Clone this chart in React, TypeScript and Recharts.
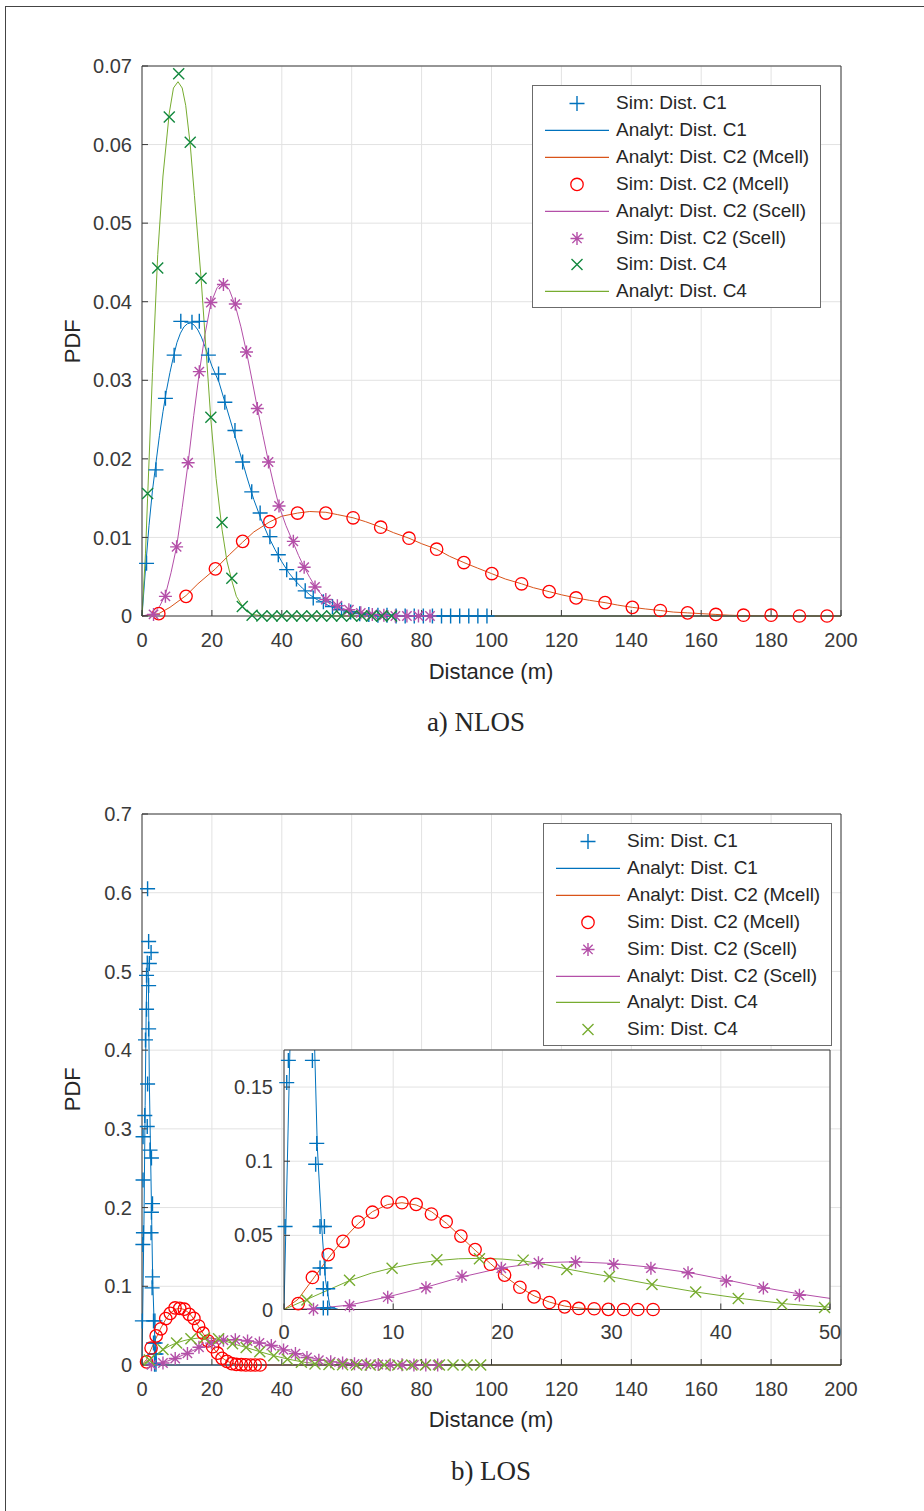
import React from 'react';
import { ComposedChart, Line, Scatter, XAxis, YAxis, CartesianGrid } from 'recharts';

type P = [number, number];

// ---------- ticks ----------
const X_TICKS = [0, 20, 40, 60, 80, 100, 120, 140, 160, 180, 200];
const NLOS_Y_TICKS = [0, 0.01, 0.02, 0.03, 0.04, 0.05, 0.06, 0.07];
const LOS_Y_TICKS = [0, 0.1, 0.2, 0.3, 0.4, 0.5, 0.6, 0.7];
const INSET_X_TICKS = [0, 10, 20, 30, 40, 50];
const INSET_Y_TICKS = [0, 0.05, 0.1, 0.15];

// ---------- NLOS data ----------
const nlosSimC1: P[] = [
  [1.3, 0.0067], [4.0, 0.0186], [6.7, 0.0277], [9.2, 0.0332], [11.1, 0.0375], [14.3, 0.0374], [16.4, 0.0375],
  [19.0, 0.0332], [21.9, 0.0308], [23.7, 0.0272], [26.6, 0.0236], [28.8, 0.0196], [31.4, 0.0158], [33.8, 0.0131],
  [36.6, 0.0101], [39.0, 0.0078], [41.4, 0.0059], [44.2, 0.0047], [46.7, 0.0032], [49.0, 0.0023], [51.9, 0.0018],
  [54.5, 0.0012], [57.1, 0.0008], [59.7, 0.0005], [62.3, 0.0003], [64.9, 0.0002], [67.5, 0.0001], [70.1, 0.0001],
  [72.7, 0], [75.3, 0], [77.9, 0], [80.5, 0], [83.1, 0], [85.7, 0], [88.3, 0], [90.9, 0], [93.5, 0], [96.1, 0], [98.7, 0],
];
const nlosAnaC1: P[] = [
  [0, 0], [1, 0.006], [2, 0.0115], [3, 0.016], [4, 0.0195], [5, 0.023], [6, 0.026], [7, 0.0287], [8, 0.031],
  [9, 0.033], [10, 0.0348], [11, 0.036], [12, 0.0368], [13, 0.0372], [14, 0.0373], [15, 0.037], [16, 0.0364],
  [17, 0.0355], [18, 0.0343], [19, 0.0331], [20, 0.0318], [22, 0.0298], [24, 0.0268], [26, 0.0238], [28, 0.0208],
  [30, 0.0177], [32, 0.0148], [34, 0.0124], [36, 0.0103], [38, 0.0085], [40, 0.0069], [42, 0.0055], [44, 0.0044],
  [46, 0.0035], [48, 0.0027], [50, 0.0021], [54, 0.0012], [58, 0.0007], [62, 0.0004], [66, 0.0002], [72, 0.0001],
  [80, 0], [200, 0],
];
const nlosAnaMcell: P[] = [
  [0, 0], [4.8, 0.0003], [8, 0.0011], [12.6, 0.0026], [16, 0.0041], [21, 0.006], [25, 0.0078], [28.8, 0.0094],
  [32, 0.0107], [36.6, 0.012], [40, 0.0127], [44.5, 0.0131], [48, 0.0133], [52.6, 0.0132], [56, 0.0129],
  [60.4, 0.0125], [64, 0.012], [68.3, 0.0113], [72, 0.0106], [76.4, 0.0099], [80, 0.0092], [84.3, 0.0085],
  [88, 0.0076], [92.1, 0.0068], [96, 0.0061], [100, 0.0054], [104, 0.0047], [108.6, 0.0041], [112, 0.0036],
  [116.5, 0.0031], [120, 0.0027], [124.2, 0.0023], [128, 0.002], [132.5, 0.0017], [136, 0.0014], [140.3, 0.0011],
  [144, 0.0009], [148.3, 0.0007], [152, 0.0005], [156.1, 0.0004], [160, 0.0003], [164.2, 0.0002], [168, 0.0001],
  [172, 0.00005], [180, 0.00002], [190, 0], [200, 0],
];
const nlosSimMcell: P[] = [
  [4.8, 0.0003], [12.6, 0.0025], [21.0, 0.006], [28.8, 0.0095], [36.6, 0.012], [44.5, 0.0131], [52.6, 0.0131],
  [60.4, 0.0125], [68.3, 0.0113], [76.4, 0.0099], [84.3, 0.0085], [92.1, 0.0068], [100.1, 0.0054], [108.6, 0.0041],
  [116.5, 0.0031], [124.2, 0.0023], [132.5, 0.0017], [140.3, 0.0011], [148.3, 0.0007], [156.1, 0.0004],
  [164.2, 0.0002], [172.1, 0.0001], [180.0, 0.0001], [188.1, 0], [196.0, 0],
];
const nlosAnaScell: P[] = [
  [0, 0], [3.3, 0.0003], [5, 0.0012], [6.7, 0.0027], [8.3, 0.0055], [9.9, 0.0088], [11.5, 0.0138], [13.2, 0.0195],
  [14.8, 0.0255], [16.4, 0.031], [18, 0.0358], [19.7, 0.0398], [21.5, 0.0418], [23.3, 0.0425], [25, 0.0415],
  [26.7, 0.0395], [28.3, 0.0368], [29.9, 0.0336], [31.5, 0.03], [33, 0.0265], [34.6, 0.023], [36.2, 0.0196],
  [37.7, 0.0167], [39.2, 0.014], [41.2, 0.0115], [43.3, 0.0093], [44.8, 0.0077], [46.4, 0.0062], [48, 0.0049],
  [49.5, 0.0038], [51, 0.0029], [52.6, 0.0022], [55.9, 0.0012], [59.2, 0.0007], [62.6, 0.0004], [66, 0.0002],
  [70, 0.0001], [76, 0], [200, 0],
];
const nlosSimScell: P[] = [
  [3.3, 0.0002], [6.7, 0.0025], [9.9, 0.0088], [13.2, 0.0195], [16.4, 0.0311], [19.7, 0.0399], [23.3, 0.0422],
  [26.7, 0.0397], [29.9, 0.0336], [33.0, 0.0264], [36.2, 0.0196], [39.2, 0.014], [43.3, 0.0095], [46.4, 0.0062],
  [49.5, 0.0037], [52.6, 0.0021], [55.9, 0.0013], [59.2, 0.0008], [62.6, 0.0004], [65.9, 0.0002], [69.2, 0.0001],
  [72.5, 0], [75.8, 0], [79.1, 0], [82.4, 0],
];
const nlosSimC4: P[] = [
  [1.6, 0.0156], [4.5, 0.0443], [7.8, 0.0635], [10.5, 0.069], [13.8, 0.0603], [16.9, 0.043], [19.7, 0.0253],
  [22.9, 0.0119], [25.7, 0.0048], [28.7, 0.0012], [31.5, 0.0001], [34.3, 0], [37.2, 0], [40.0, 0], [42.9, 0],
  [45.7, 0], [48.6, 0], [51.4, 0], [54.3, 0], [57.1, 0], [60.0, 0], [62.9, 0], [65.7, 0], [68.6, 0], [71.4, 0],
];
const nlosAnaC4: P[] = [
  [0, 0], [1, 0.008], [1.6, 0.015], [3, 0.031], [4.5, 0.046], [6, 0.056], [7.8, 0.064], [9, 0.0672], [10.3, 0.068],
  [11.5, 0.0672], [12.5, 0.065], [13.8, 0.06], [15, 0.0535], [16.9, 0.043], [18.3, 0.034], [19.7, 0.025],
  [21.2, 0.0175], [22.9, 0.011], [24.3, 0.007], [25.7, 0.0045], [27, 0.0025], [28.8, 0.0012], [30, 0.0006],
  [31.6, 0.0002], [34, 0.00005], [36, 0], [200, 0],
];

// ---------- LOS data ----------
const losSimC1: P[] = [
  [0.1, 0.056], [0.25, 0.153], [0.4, 0.168], [0.3, 0.235], [0.3, 0.29], [0.8, 0.317], [1.5, 0.303], [1.6, 0.357],
  [1.0, 0.413], [1.9, 0.427], [1.3, 0.452], [1.9, 0.482], [1.3, 0.495], [2.1, 0.51], [2.6, 0.524], [1.9, 0.538],
  [1.6, 0.605], [2.3, 0.273], [2.7, 0.263], [3.0, 0.205], [2.7, 0.194], [2.6, 0.168], [3.0, 0.112], [2.9, 0.098],
  [3.3, 0.056], [3.7, 0.056], [3.3, 0.028], [3.75, 0.028], [3.6, 0.014], [4.0, 0.014], [3.6, 0.001], [4.0, 0.001],
];
const losAnaC1: P[] = [
  [0, 0], [0.55, 0.178], [0.9, 0.33], [1.2, 0.45], [1.5, 0.52], [1.8, 0.5], [2.1, 0.36], [2.8, 0.178], [3.05, 0.11],
  [3.45, 0.056], [3.8, 0.02], [4.2, 0.002], [5, 0], [200, 0],
];
const losAnaMcell: P[] = [
  [0, 0], [1.3, 0.007], [2.6, 0.02], [4, 0.034], [5.4, 0.047], [6.8, 0.058], [8.1, 0.066], [9.5, 0.0708],
  [10.8, 0.072], [12.1, 0.0705], [13.5, 0.066], [14.9, 0.058], [16.2, 0.049], [17.5, 0.04], [18.9, 0.031],
  [20.2, 0.0225], [21.6, 0.015], [22.9, 0.0092], [24.3, 0.005], [25.7, 0.0023], [27, 0.001], [28.4, 0.0003],
  [30, 0], [200, 0],
];
const losSimMcell: P[] = [
  [1.3, 0.004], [2.6, 0.0216], [4.05, 0.037], [5.4, 0.046], [6.8, 0.059], [8.1, 0.0656], [9.45, 0.0725],
  [10.8, 0.072], [12.1, 0.0709], [13.5, 0.0644], [14.85, 0.0592], [16.2, 0.0495], [17.5, 0.0404], [18.9, 0.0305],
  [20.2, 0.0232], [21.6, 0.015], [22.9, 0.0085], [24.3, 0.0047], [25.7, 0.0018], [27.0, 0.0007], [28.4, 0.0005],
  [29.7, 0.0001], [31.1, 0], [32.4, 0], [33.8, 0],
];
const losSimScell: P[] = [
  [2.7, 0.0002], [6.0, 0.0025], [9.5, 0.0083], [13.0, 0.0147], [16.3, 0.0225], [19.9, 0.0278], [23.3, 0.0315],
  [26.7, 0.032], [30.2, 0.0304], [33.6, 0.0279], [37.0, 0.0248], [40.5, 0.0192], [43.9, 0.0145], [47.2, 0.0096],
  [50.6, 0.006], [54.0, 0.004], [57.4, 0.0025], [60.8, 0.0015], [64.2, 0.001], [67.6, 0.0006], [71.0, 0.0003],
  [74.4, 0.0002], [77.8, 0.0001], [81.2, 0], [84.6, 0],
];
const losAnaScell: P[] = [
  [0, 0], [2.7, 0.0005], [6, 0.003], [9.5, 0.0085], [13, 0.015], [16.3, 0.022], [19.9, 0.028], [23.3, 0.0315],
  [26.7, 0.0322], [30.2, 0.031], [33.6, 0.0285], [37, 0.025], [40.5, 0.02], [43.9, 0.0148], [47.2, 0.0105],
  [50, 0.0075], [54, 0.0045], [58, 0.0025], [62, 0.0013], [66, 0.0006], [70, 0.0003], [75, 0.0001], [80, 0], [200, 0],
];
const losAnaC4: P[] = [
  [0, 0], [2, 0.0065], [4, 0.013], [6, 0.0195], [8, 0.0245], [10, 0.0282], [12, 0.031], [14, 0.033], [16, 0.0342],
  [18, 0.0345], [20, 0.034], [22, 0.0327], [24, 0.0302], [26, 0.0272], [28, 0.0245], [30, 0.022], [34, 0.0165],
  [38, 0.0115], [42, 0.0073], [46, 0.0038], [50, 0.0015], [55, 0.0006], [60, 0.0002], [70, 0.0001], [80, 0], [200, 0],
];
const losSimC4: P[] = [
  [2.1, 0.0064], [6.0, 0.0197], [9.9, 0.0278], [14.0, 0.0335], [17.9, 0.0342], [21.9, 0.0333], [25.9, 0.027],
  [29.8, 0.0223], [33.7, 0.0168], [37.7, 0.0118], [41.6, 0.0074], [45.6, 0.0036], [49.5, 0.0013], [53.5, 0.0006],
  [57.4, 0.0003], [61.4, 0.0001], [65.3, 0], [69.3, 0], [73.2, 0], [77.2, 0], [81.1, 0], [85.1, 0], [89.0, 0],
  [93.0, 0], [96.9, 0],
];

// ---------- styling ----------
const FONT = '"Liberation Sans", Arial, Helvetica, sans-serif';
const SERIF = '"Liberation Serif", "Times New Roman", serif';
const AXIS = '#3a3a3a';
const TXT = '#3a3a3a';
const GRID = '#e2e2e2';
const C_BLUE = '#0072BD';
const C_ORANGE = '#D95319';
const C_RED = '#FF0000';
const C_MAG = '#B44FA8';
const C_DKGREEN = '#12883E';
const C_LTGREEN = '#77AC30';

const pts = (a: P[]) => a.map(([x, y]) => ({ x, y }));

type Kind = 'line' | 'plus' | 'circle' | 'star' | 'x';

const markerPath = (kind: Kind, cx: number, cy: number) => {
  if (kind === 'plus') return `M${cx - 7.5},${cy}H${cx + 7.5}M${cx},${cy - 7.5}V${cy + 7.5}`;
  if (kind === 'x') return `M${cx - 5.5},${cy - 5.5}L${cx + 5.5},${cy + 5.5}M${cx - 5.5},${cy + 5.5}L${cx + 5.5},${cy - 5.5}`;
  if (kind === 'star') {
    const r = 6.5;
    const d = r * 0.72;
    return `M${cx - r},${cy}H${cx + r}M${cx},${cy - r}V${cy + r}M${cx - d},${cy - d}L${cx + d},${cy + d}M${cx - d},${cy + d}L${cx + d},${cy - d}`;
  }
  return '';
};

const Marker = ({ kind, cx, cy, color }: { kind: Kind; cx: number; cy: number; color: string }) => {
  if (kind === 'circle') return <circle cx={cx} cy={cy} r={6.2} fill="none" stroke={color} strokeWidth={1.3} />;
  return <path d={markerPath(kind, cx, cy)} fill="none" stroke={color} strokeWidth={1.4} />;
};

const shape = (kind: Kind, color: string) => (props: any) => {
  const { cx, cy } = props;
  if (cx == null || cy == null || isNaN(cx) || isNaN(cy)) return <g />;
  return <Marker kind={kind} cx={cx} cy={cy} color={color} />;
};

type Series = { kind: Kind; color: string; data: P[] };

const tickStyle = { fill: TXT, fontSize: 20, fontFamily: FONT };

const fmt = (v: number) => String(v);

function renderBoxAxes(
  xDomain: [number, number], yDomain: [number, number], xTicks: number[], yTicks: number[],
  clip: boolean, xMargin: number, yMargin: number
) {
  return [
    <XAxis key="xb" xAxisId={0} type="number" dataKey="x" domain={xDomain} ticks={xTicks} interval={0}
      height={30} tickSize={-6} tickMargin={xMargin} tick={tickStyle} tickFormatter={fmt}
      axisLine={{ stroke: AXIS }} tickLine={{ stroke: AXIS }} allowDataOverflow={clip} />,
    <XAxis key="xt" xAxisId="top" orientation="top" type="number" dataKey="x" domain={xDomain} ticks={xTicks}
      interval={0} height={1} tickSize={-6} tick={false} axisLine={{ stroke: AXIS }} tickLine={{ stroke: AXIS }}
      allowDataOverflow />,
    <YAxis key="yl" yAxisId={0} type="number" dataKey="y" domain={yDomain} ticks={yTicks} interval={0}
      width={60} tickSize={-6} tickMargin={yMargin} tick={tickStyle} tickFormatter={fmt}
      axisLine={{ stroke: AXIS }} tickLine={{ stroke: AXIS }} allowDataOverflow={clip} />,
    <YAxis key="yr" yAxisId="right" orientation="right" type="number" dataKey="y" domain={yDomain} ticks={yTicks}
      interval={0} width={1} tickSize={-6} tick={false} axisLine={{ stroke: AXIS }} tickLine={{ stroke: AXIS }}
      allowDataOverflow />,
  ];
}

function renderSeries(series: Series[], prefix: string, scatterAxis: string | number, filter?: (p: P) => boolean) {
  return series.map((s, i) => {
    if (s.kind === 'line') {
      return (
        <Line key={`${prefix}-${i}`} xAxisId={0} yAxisId={0} data={pts(s.data)} dataKey="y" type="linear"
          stroke={s.color} strokeWidth={1} dot={false} activeDot={false} isAnimationActive={false} />
      );
    }
    const d = filter ? s.data.filter(filter) : s.data;
    return (
      <Scatter key={`${prefix}-${i}`} xAxisId={scatterAxis} yAxisId={scatterAxis} data={pts(d)} dataKey="y"
        shape={shape(s.kind, s.color)} isAnimationActive={false} />
    );
  });
}

const nlosSeries: Series[] = [
  { kind: 'plus', color: C_BLUE, data: nlosSimC1 },
  { kind: 'line', color: C_BLUE, data: nlosAnaC1 },
  { kind: 'line', color: C_ORANGE, data: nlosAnaMcell },
  { kind: 'circle', color: C_RED, data: nlosSimMcell },
  { kind: 'line', color: C_MAG, data: nlosAnaScell },
  { kind: 'star', color: C_MAG, data: nlosSimScell },
  { kind: 'x', color: C_DKGREEN, data: nlosSimC4 },
  { kind: 'line', color: C_LTGREEN, data: nlosAnaC4 },
];
const nlosLabels = [
  'Sim: Dist. C1', 'Analyt: Dist. C1', 'Analyt: Dist. C2 (Mcell)', 'Sim: Dist. C2 (Mcell)',
  'Analyt: Dist. C2 (Scell)', 'Sim: Dist. C2 (Scell)', 'Sim: Dist. C4', 'Analyt: Dist. C4',
];

const losSeries: Series[] = [
  { kind: 'plus', color: C_BLUE, data: losSimC1 },
  { kind: 'line', color: C_BLUE, data: losAnaC1 },
  { kind: 'line', color: C_ORANGE, data: losAnaMcell },
  { kind: 'circle', color: C_RED, data: losSimMcell },
  { kind: 'star', color: C_MAG, data: losSimScell },
  { kind: 'line', color: C_MAG, data: losAnaScell },
  { kind: 'line', color: C_LTGREEN, data: losAnaC4 },
  { kind: 'x', color: C_LTGREEN, data: losSimC4 },
];
const losLabels = [
  'Sim: Dist. C1', 'Analyt: Dist. C1', 'Analyt: Dist. C2 (Mcell)', 'Sim: Dist. C2 (Mcell)',
  'Sim: Dist. C2 (Scell)', 'Analyt: Dist. C2 (Scell)', 'Analyt: Dist. C4', 'Sim: Dist. C4',
];

function LegendBox({ left, top, width, series, labels }: { left: number; top: number; width: number; series: Series[]; labels: string[] }) {
  const rowH = 26.9;
  return (
    <div style={{
      position: 'absolute', left, top, width, height: 223, background: '#fff', border: '1px solid #6b6b6b',
      boxSizing: 'border-box',
    }}>
      {series.map((s, i) => (
        <div key={i} style={{ position: 'absolute', left: 0, top: 4 + i * rowH, width: '100%', height: rowH }}>
          <svg width={84} height={rowH} style={{ position: 'absolute', left: 0, top: 0 }}>
            {s.kind === 'line'
              ? <line x1={12} x2={76} y1={rowH / 2} y2={rowH / 2} stroke={s.color} strokeWidth={1.2} />
              : <Marker kind={s.kind} cx={44} cy={rowH / 2} color={s.color} />}
          </svg>
          <span style={{
            position: 'absolute', left: 83, top: 0, lineHeight: `${rowH}px`, fontSize: 19, fontFamily: FONT,
            color: '#262626', whiteSpace: 'nowrap',
          }}>{labels[i]}</span>
        </div>
      ))}
    </div>
  );
}

const Text = ({ cx, cy, size, family, children, rotate }: any) => (
  <div style={{
    position: 'absolute', left: cx - 200, top: cy - size * 0.6, width: 400, height: size * 1.2, lineHeight: `${size * 1.2}px`,
    textAlign: 'center', fontSize: size, fontFamily: family, color: '#262626', whiteSpace: 'nowrap',
    transform: rotate ? `rotate(${rotate}deg)` : undefined,
  }}>{children}</div>
);

export default function App() {
  return (
    <div style={{ position: 'absolute', left: 0, top: 0, width: 924, height: 1511, overflow: 'hidden', background: '#fff' }}>
      <div style={{ position: 'absolute', left: 5, top: 6, width: 1000, height: 1600, border: '1px solid #444' }} />

      {/* NLOS */}
      <div style={{ position: 'absolute', left: 0, top: 0 }}>
        <ComposedChart width={924} height={700} margin={{ top: 65, right: 82, left: 82, bottom: 54 }}>
          <CartesianGrid stroke={GRID} strokeWidth={1} />
          {renderBoxAxes([0, 200], [0, 0.07], X_TICKS, NLOS_Y_TICKS, false, 23, 16)}
          {renderSeries(nlosSeries, 'n', 0)}
        </ComposedChart>
      </div>
      <LegendBox left={532} top={85} width={289} series={nlosSeries} labels={nlosLabels} />
      <Text cx={491} cy={672} size={22} family={FONT}>Distance (m)</Text>
      <Text cx={73} cy={341} size={22} family={FONT} rotate={-90}>PDF</Text>
      <Text cx={476} cy={722} size={27} family={SERIF}>a) NLOS</Text>

      {/* LOS */}
      <div style={{ position: 'absolute', left: 0, top: 750 }}>
        <ComposedChart width={924} height={700} margin={{ top: 63, right: 82, left: 82, bottom: 55 }}>
          <CartesianGrid stroke={GRID} strokeWidth={1} />
          {renderBoxAxes([0, 200], [0, 0.7], X_TICKS, LOS_Y_TICKS, false, 23, 16)}
          {renderSeries(losSeries, 'l', 0)}
        </ComposedChart>
      </div>
      <LegendBox left={543} top={823} width={289} series={losSeries} labels={losLabels} />

      {/* inset */}
      <div style={{ position: 'absolute', left: 200, top: 1000 }}>
        <ComposedChart width={660} height={360} margin={{ top: 49, right: 29, left: 24, bottom: 20.5 }}>
          <CartesianGrid stroke={GRID} strokeWidth={1} fill="#ffffff" fillOpacity={1} />
          {renderBoxAxes([0, 50], [0, 0.175], INSET_X_TICKS, INSET_Y_TICKS, true, 21, 17)}
          <XAxis xAxisId="s" type="number" dataKey="x" domain={[0, 50]} hide />
          <YAxis yAxisId="s" type="number" dataKey="y" domain={[0, 0.175]} hide />
          {renderSeries(losSeries, 'i', 's', ([x, y]) => x <= 50 && y <= 0.175)}
        </ComposedChart>
      </div>

      <Text cx={491} cy={1420} size={22} family={FONT}>Distance (m)</Text>
      <Text cx={73} cy={1089} size={22} family={FONT} rotate={-90}>PDF</Text>
      <Text cx={491} cy={1471} size={27} family={SERIF}>b) LOS</Text>
    </div>
  );
}
